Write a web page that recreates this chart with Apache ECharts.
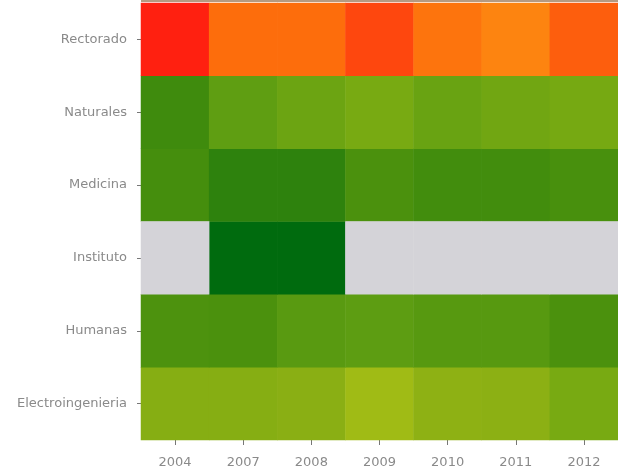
<!DOCTYPE html>
<html>
<head>
<meta charset="utf-8">
<script src="https://cdn.jsdelivr.net/npm/echarts@6/dist/echarts.min.js"></script>
<style>
html,body{margin:0;padding:0;background:#fff;}
#chart{width:618px;height:469px;}
</style>
</head>
<body>
<div id="chart"></div>
<script>
// Categories
var years = ['2004', '2007', '2008', '2009', '2010', '2011', '2012'];
var units = ['Electroingenieria', 'Humanas', 'Instituto', 'Medicina', 'Naturales', 'Rectorado'];

// Values per unit (null = no data), in the order of years
var rectorado = [100, 90, 90, 95, 87, 80, 92];
var naturales = [16, 30, 35, 40, 34, 37, 39];
var medicina = [18, 10, 10, 20, 17, 17, 19];
var instituto = [null, 0, 0, null, null, null, null];
var humanas = [21, 20, 27, 29, 26, 26, 20];
var electroingenieria = [47, 47, 49, 60, 51, 50, 40];

var valuesByUnit = {
  'Electroingenieria': electroingenieria,
  'Humanas': humanas,
  'Instituto': instituto,
  'Medicina': medicina,
  'Naturales': naturales,
  'Rectorado': rectorado
};

var data = [];
var missing = [];
units.forEach(function (u, yi) {
  valuesByUnit[u].forEach(function (v, xi) {
    if (v === null) missing.push([xi, yi, 0]);
    else data.push([xi, yi, v]);
  });
});

var chart = echarts.init(document.getElementById('chart'), null, {renderer: 'canvas'});
var labelStyle = {color: '#8a8a8a', fontSize: 13, fontFamily: 'DejaVu Sans'};
chart.setOption({
  animation: false,
  backgroundColor: '#ffffff',
  grid: {left: 141, top: 3, width: 480, bottom: 29},
  xAxis: {
    type: 'category',
    data: years,
    axisLine: {show: false},
    axisTick: {show: true, alignWithLabel: true, length: 5, lineStyle: {color: '#777', width: 1}},
    axisLabel: Object.assign({margin: 16}, labelStyle),
    splitLine: {show: false}
  },
  yAxis: {
    type: 'category',
    data: units,
    axisLine: {show: false},
    axisTick: {show: true, alignWithLabel: true, length: 4, lineStyle: {color: '#777', width: 1}},
    axisLabel: Object.assign({margin: 14}, labelStyle),
    splitLine: {show: false}
  },
  visualMap: {
    show: false,
    type: 'continuous',
    seriesIndex: 0,
    min: 0,
    max: 100,
    dimension: 2,
    inRange: {
      color: ['#006b0e', '#2e820d', '#4b910d', '#5f9e12', '#78aa12', '#8cb014',
               '#a0bb15', '#d0a012', '#fd8410', '#fd6d0c', '#ff2010']
    }
  },
  series: [
    {
      type: 'heatmap',
      data: data,
      itemStyle: {borderWidth: 0},
      emphasis: {disabled: true}
    },
    {
      type: 'heatmap',
      data: missing,
      itemStyle: {color: '#d4d3d8', borderWidth: 0},
      emphasis: {disabled: true}
    }
  ],
  graphic: [{
    type: 'rect',
    shape: {x: 141, y: 0, width: 480, height: 2},
    style: {fill: '#b49a82'},
    silent: true
  }]
});
</script>
</body>
</html>
